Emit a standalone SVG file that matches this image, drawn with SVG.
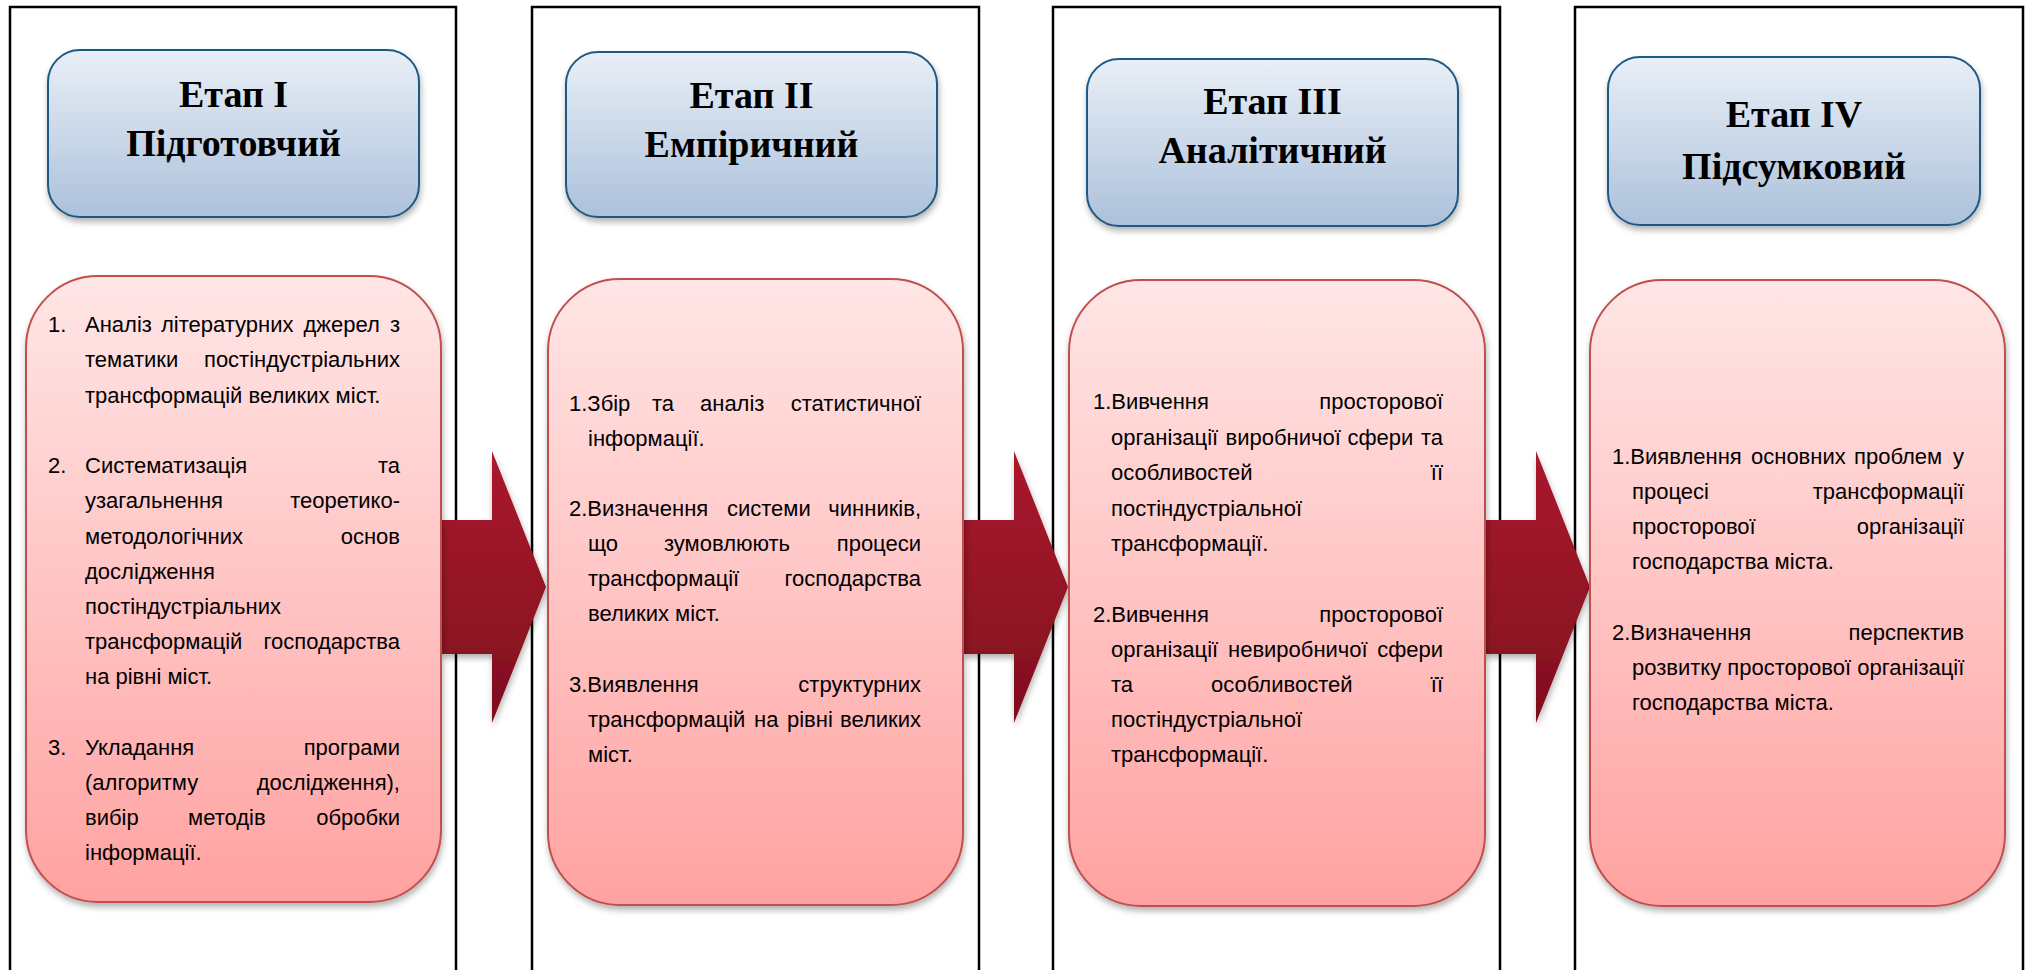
<svg xmlns="http://www.w3.org/2000/svg" width="2027" height="970" viewBox="0 0 2027 970">
<defs>
<linearGradient id="gHead" x1="0" y1="0" x2="0" y2="1">
<stop offset="0" stop-color="#e9eff7"/>
<stop offset="1" stop-color="#acc1db"/>
</linearGradient>
<linearGradient id="gBody" x1="0" y1="0" x2="0" y2="1">
<stop offset="0" stop-color="#ffe6e6"/>
<stop offset="1" stop-color="#ffa2a1"/>
</linearGradient>
<linearGradient id="gArrow" x1="0" y1="0" x2="0" y2="1">
<stop offset="0" stop-color="#ab1a2d"/>
<stop offset="1" stop-color="#7f0f1e"/>
</linearGradient>
<filter id="shadow" x="-10%" y="-10%" width="120%" height="125%">
<feDropShadow dx="1" dy="4" stdDeviation="3" flood-color="#000" flood-opacity="0.3"/>
</filter>
</defs>
<style>
.frame{fill:none;stroke:#000;stroke-width:2.5}
.head{fill:url(#gHead);stroke:#1f5a86;stroke-width:2;filter:url(#shadow)}
.body{fill:url(#gBody);stroke:#c0504d;stroke-width:2;filter:url(#shadow)}
.arrow{fill:url(#gArrow);filter:url(#shadow)}
.ht{font-family:"Liberation Serif","Times New Roman",serif;font-weight:bold;font-size:38px;fill:#000;text-anchor:middle}
.t{font-family:"Liberation Sans",Arial,sans-serif;font-size:22px;fill:#000}
.e{text-anchor:end}
</style>

<g id="frames">
<rect class="frame" x="10" y="7" width="446" height="1000"/>
<rect class="frame" x="532" y="7" width="447" height="1000"/>
<rect class="frame" x="1053" y="7" width="447" height="1000"/>
<rect class="frame" x="1575" y="7" width="448" height="1000"/>
</g>

<g id="stage1-header">
<rect class="head" x="48" y="50" width="371" height="167" rx="32" ry="32"/>
<text class="ht" x="233.5" y="107">Етап І</text>
<text class="ht" x="233.5" y="156">Підготовчий</text>
</g>
<g id="stage2-header">
<rect class="head" x="566" y="52" width="371" height="165" rx="32" ry="32"/>
<text class="ht" x="751.5" y="108">Етап ІІ</text>
<text class="ht" x="751.5" y="157">Емпіричний</text>
</g>
<g id="stage3-header">
<rect class="head" x="1087" y="59" width="371" height="167" rx="32" ry="32"/>
<text class="ht" x="1272.5" y="114">Етап ІІІ</text>
<text class="ht" x="1272.5" y="163">Аналітичний</text>
</g>
<g id="stage4-header">
<rect class="head" x="1608" y="57" width="372" height="168" rx="32" ry="32"/>
<text class="ht" x="1794" y="127">Етап IV</text>
<text class="ht" x="1794" y="179">Підсумковий</text>
</g>

<g id="connectors">
<path class="arrow" d="M441,520 H492 V451 L546,587 L492,723 V654 H441 Z"/>
<path class="arrow" d="M963,520 H1014 V451 L1068,587 L1014,723 V654 H963 Z"/>
<path class="arrow" d="M1484,520 H1536 V451 L1590,587 L1536,723 V654 H1484 Z"/>
</g>

<g id="stage1-body">
<rect class="body" x="26" y="276" width="415" height="626" rx="72" ry="72"/>
<text class="t" x="48" y="332">1.</text>
<text class="t" y="332"><tspan x="85">Аналіз</tspan><tspan x="161">літературних</tspan><tspan x="303.5">джерел</tspan></text>
<text class="t e" x="400" y="332">з</text>
<text class="t" x="85" y="367">тематики</text>
<text class="t e" x="400" y="367">постіндустріальних</text>
<text class="t" x="85" y="403">трансформацій великих міст.</text>
<text class="t" x="48" y="473">2.</text>
<text class="t" x="85" y="473">Систематизація</text>
<text class="t e" x="400" y="473">та</text>
<text class="t" x="85" y="508">узагальнення</text>
<text class="t e" x="400" y="508">теоретико-</text>
<text class="t" x="85" y="544">методологічних</text>
<text class="t e" x="400" y="544">основ</text>
<text class="t" x="85" y="579">дослідження</text>
<text class="t" x="85" y="614">постіндустріальних</text>
<text class="t" x="85" y="649">трансформацій</text>
<text class="t e" x="400" y="649">господарства</text>
<text class="t" x="85" y="684">на рівні міст.</text>
<text class="t" x="48" y="755">3.</text>
<text class="t" x="85" y="755">Укладання</text>
<text class="t e" x="400" y="755">програми</text>
<text class="t" x="85" y="790">(алгоритму</text>
<text class="t e" x="400" y="790">дослідження),</text>
<text class="t" y="825"><tspan x="85">вибір</tspan><tspan x="188">методів</tspan></text>
<text class="t e" x="400" y="825">обробки</text>
<text class="t" x="85" y="860">інформації.</text>
</g>

<g id="stage2-body">
<rect class="body" x="548" y="279" width="415" height="626" rx="72" ry="72"/>
<text class="t" y="411"><tspan x="569">1.Збір</tspan><tspan x="652">та</tspan><tspan x="700">аналіз</tspan></text>
<text class="t e" x="921" y="411">статистичної</text>
<text class="t" x="588" y="446">інформації.</text>
<text class="t" y="516"><tspan x="569">2.Визначення</tspan><tspan x="727">системи</tspan></text>
<text class="t e" x="921" y="516">чинників,</text>
<text class="t" y="551"><tspan x="588">що</tspan><tspan x="664">зумовлюють</tspan></text>
<text class="t e" x="921" y="551">процеси</text>
<text class="t" x="588" y="586">трансформації</text>
<text class="t e" x="921" y="586">господарства</text>
<text class="t" x="588" y="621">великих міст.</text>
<text class="t" x="569" y="692">3.Виявлення</text>
<text class="t e" x="921" y="692">структурних</text>
<text class="t" y="727"><tspan x="588">трансформацій</tspan><tspan x="754">на</tspan><tspan x="787">рівні</tspan></text>
<text class="t e" x="921" y="727">великих</text>
<text class="t" x="588" y="762">міст.</text>
</g>

<g id="stage3-body">
<rect class="body" x="1069" y="280" width="416" height="626" rx="72" ry="72"/>
<text class="t" x="1093" y="409">1.Вивчення</text>
<text class="t e" x="1443" y="409">просторової</text>
<text class="t" y="445"><tspan x="1111">організації</tspan><tspan x="1225.5">виробничої</tspan><tspan x="1347.5">сфери</tspan></text>
<text class="t e" x="1443" y="445">та</text>
<text class="t" x="1111" y="480">особливостей</text>
<text class="t e" x="1443" y="480">її</text>
<text class="t" x="1111" y="516">постіндустріальної</text>
<text class="t" x="1111" y="551">трансформації.</text>
<text class="t" x="1093" y="622">2.Вивчення</text>
<text class="t e" x="1443" y="622">просторової</text>
<text class="t" y="657"><tspan x="1111">організації</tspan><tspan x="1228">невиробничої</tspan></text>
<text class="t e" x="1443" y="657">сфери</text>
<text class="t" y="692"><tspan x="1111">та</tspan><tspan x="1211">особливостей</tspan></text>
<text class="t e" x="1443" y="692">її</text>
<text class="t" x="1111" y="727">постіндустріальної</text>
<text class="t" x="1111" y="762">трансформації.</text>
</g>

<g id="stage4-body">
<rect class="body" x="1590" y="280" width="415" height="626" rx="72" ry="72"/>
<text class="t" y="464"><tspan x="1612">1.Виявлення</tspan><tspan x="1751">основних</tspan><tspan x="1854">проблем</tspan></text>
<text class="t e" x="1964" y="464">у</text>
<text class="t" x="1632" y="499">процесі</text>
<text class="t e" x="1964" y="499">трансформації</text>
<text class="t" x="1632" y="534">просторової</text>
<text class="t e" x="1964" y="534">організації</text>
<text class="t" x="1632" y="569">господарства міста.</text>
<text class="t" x="1612" y="640">2.Визначення</text>
<text class="t e" x="1964" y="640">перспектив</text>
<text class="t" x="1632" y="675">розвитку просторової організації</text>
<text class="t" x="1632" y="710">господарства міста.</text>
</g>
</svg>
